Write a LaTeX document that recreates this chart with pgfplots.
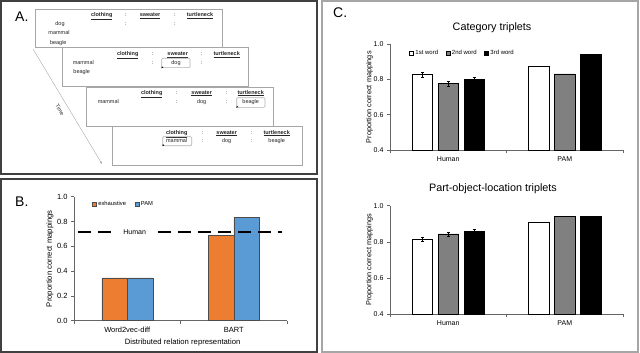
\documentclass[border=0pt]{standalone}
\usepackage{fontspec}
\setmainfont{Liberation Sans}
\usepackage{pgfplots}
\pgfplotsset{compat=1.18}
\usetikzlibrary{arrows.meta}
\definecolor{xlorange}{RGB}{237,125,49}
\definecolor{xlblue}{RGB}{91,155,213}
\definecolor{xlgray}{RGB}{128,128,128}
\newcommand\fs[1]{\fontsize{#1}{#1}\selectfont}
\newcommand\hd[1]{\underline{\textbf{#1}}}

\pgfplotsset{
  excel/.style={
    scale only axis, anchor=south west,
    xmin=0.5, xmax=2.5,
    axis lines*=left,
    axis line style={black!60, line width=0.6pt},
    tick align=outside, major tick length=3pt,
    tick style={black!60, line width=0.6pt},
    xtick={0.5,1.5,2.5}, x tick label as interval,
    yticklabel style={/pgf/number format/.cd, fixed, fixed zerofill, precision=1, assume math mode=true},
    legend cell align=left,
  }
}

\begin{document}
\begin{tikzpicture}
\path[use as bounding box] (0pt,0pt) rectangle (640pt,-353pt);

% panel frames
\draw[black!75, line width=1.2pt] (1pt,-1pt) rectangle (317pt,-174pt);
\draw[black!75, line width=1.2pt] (1pt,-179pt) rectangle (317pt,-352pt);
\draw[gray!70, line width=2pt] (322pt,-1pt) rectangle (638pt,-352pt);

\node[anchor=base west, font=\fs{14}, inner sep=0pt] at (15pt,-22pt) {A.};
\node[anchor=base west, font=\fs{14}, inner sep=0pt] at (15pt,-206pt) {B.};
\node[anchor=base west, font=\fs{14}, inner sep=0pt] at (333pt,-18pt) {C.};

% ---- panel A: mapping sequence
\begin{scope}[x=1pt, y=-1pt, every node/.style={font=\fs{5.5}, text=black!85, inner sep=0pt, text height=4pt, text depth=1pt}]
  \draw[gray!70, line width=0.4pt, -{Latex[length=2.5pt,width=2pt]}] (33,49) -- (102,164);
  \node[rotate=-59] at (59.5,110) {Time};
  \foreach \a/\b/\c/\d in {35/9/222/47, 62/47/248/86, 86/87/273/126, 112/126/302/165}
    \draw[gray!70, line width=0.8pt, fill=white] (\a,\b) rectangle (\c,\d);
  % box 1
  \node at (101.7,15) {\hd{clothing}}; \node at (126,15) {:};
  \node at (150,15) {\hd{sweater}}; \node at (175,15) {:};
  \node at (200,15) {\hd{turtleneck}};
  \node at (60,24) {dog}; \node at (126,24) {:}; \node at (175,24) {:};
  \node at (59,33.3) {mammal}; \node at (58.3,42.7) {beagle};
  % box 2
  \node at (127.7,54) {\hd{clothing}}; \node at (152.7,54) {:};
  \node at (177.7,54) {\hd{sweater}}; \node at (201.7,54) {:};
  \node at (226.7,54) {\hd{turtleneck}};
  \node at (83.3,63.3) {mammal}; \node at (152.7,63.3) {:}; \node at (201.7,63.3) {:};
  \draw[gray!60, rounded corners=1pt, line width=0.6pt] (161.7,58.3) rectangle (190,67.7);
  \node at (176,63.3) {dog};
  \node at (81.7,72.3) {beagle};
  \fill[black] (161.3,68.3) -- ++(0.6,-2) -- ++(1.4,1.2) -- cycle;
  % box 3
  \node at (151.7,92.7) {\hd{clothing}}; \node at (176.7,92.7) {:};
  \node at (201.7,92.7) {\hd{sweater}}; \node at (226.7,92.7) {:};
  \node at (250.7,92.7) {\hd{turtleneck}};
  \node at (108.3,102.3) {mammal}; \node at (176.7,102.3) {:};
  \node at (201.7,102.3) {dog}; \node at (226.7,102.3) {:};
  \draw[gray!60, rounded corners=1pt, line width=0.6pt] (236.7,97.7) rectangle (265,107.3);
  \node at (250.7,102.3) {beagle};
  \fill[black] (236.3,107.8) -- ++(0.6,-2) -- ++(1.4,1.2) -- cycle;
  % box 4
  \node at (176.7,132.7) {\hd{clothing}}; \node at (202.7,132.7) {:};
  \node at (226.7,132.7) {\hd{sweater}}; \node at (251.7,132.7) {:};
  \node at (276.7,132.7) {\hd{turtleneck}};
  \draw[gray!60, rounded corners=1pt, line width=0.6pt] (162.7,136.7) rectangle (191.7,145.7);
  \node at (176.7,141) {mammal}; \node at (202.7,141) {:};
  \node at (226.7,141) {dog}; \node at (251.7,141) {:};
  \node at (276.7,141) {beagle};
  \fill[black] (162.3,146.2) -- ++(0.6,-2) -- ++(1.4,1.2) -- cycle;
\end{scope}

% ---- panel B
\begin{axis}[excel,
  at={(74pt,-320.7pt)}, width=213pt, height=124pt,
  ybar=0pt, bar width=25.5pt,
  legend image code/.code={\draw[#1, line width=0.4pt] (0pt,-2pt) rectangle (4pt,2pt);},
  ymin=0, ymax=1, ytick={0,0.2,0.4,0.6,0.8,1.0},
  xticklabels={Word2vec-diff,BART},
  tick label style={font=\fs{7.5}},
  xlabel={Distributed relation representation},
  ylabel={Proportion correct mappings},
  xlabel style={at={(axis description cs:0.51,-0.172)}, anchor=center, font=\fs{7.7}},
  ylabel style={at={(axis description cs:-0.113,0.5)}, anchor=center, font=\fs{7.7}},
  legend style={at={(0.07,0.94)}, anchor=west, draw=none, fill=none, font=\fs{5.8},
    nodes={inner xsep=0.6pt},
    legend columns=2, /tikz/every odd column/.append style={column sep=1.2pt},
    /tikz/every even column/.append style={column sep=8pt}},
]
\addplot[fill=xlorange, draw=black!70, line width=0.5pt] coordinates {(1,0.345) (2,0.688)};
\addplot[fill=xlblue, draw=black!70, line width=0.5pt] coordinates {(1,0.345) (2,0.833)};
\addplot[sharp plot, black, line width=2pt, dash pattern=on 13pt off 7pt, forget plot]
  coordinates {(0.538,0.718) (2.453,0.718)};
\node[fill=white, inner xsep=9pt, inner ysep=2pt, font=\fs{7}] at (axis cs:1.07,0.718) {Human};
\legend{exhaustive, PAM}
\end{axis}

% ---- panel C, top
\begin{axis}[excel,
  at={(390pt,-150pt)}, width=233pt, height=105.7pt,
  ybar=5.5pt, bar width=20.5pt,
  legend image code/.code={\draw[#1, line width=0.4pt] (0pt,-2pt) rectangle (4pt,2pt);},
  ymin=0.4, ymax=1, ytick={0.4,0.6,0.8,1.0},
  xticklabels={Human,PAM},
  tick label style={font=\fs{7}},
  title={Category triplets},
  title style={at={(axis description cs:0.438,1.097)}, anchor=center, font=\fs{10.8}},
  ylabel={Proportion correct mappings},
  ylabel style={at={(axis description cs:-0.088,0.5)}, anchor=center, font=\fs{7.3}},
  legend style={at={(0.069,0.92)}, anchor=west, draw=none, fill=none, font=\fs{6},
    nodes={inner xsep=0.6pt},
    legend columns=3, /tikz/every odd column/.append style={column sep=1.2pt},
    /tikz/every even column/.append style={column sep=7pt}},
  error bars/y dir=both, error bars/y explicit,
  error bars/error bar style={black, line width=0.4pt},
  error bars/error mark options={rotate=90, mark size=1.5pt, black, line width=0.4pt},
]
\addplot[fill=white, draw=black, line width=0.7pt] coordinates {(1,0.828) +- (0,0.015) (2,0.877) +- (0,0)};
\addplot[fill=xlgray, draw=black, line width=0.7pt] coordinates {(1,0.776) +- (0,0.015) (2,0.832) +- (0,0)};
\addplot[fill=black, draw=black, line width=0.7pt] coordinates {(1,0.800) +- (0,0.015) (2,0.941) +- (0,0)};
\legend{1st word, 2nd word, 3rd word}
\end{axis}

% ---- panel C, bottom
\begin{axis}[excel,
  at={(390pt,-314.3pt)}, width=233pt, height=108.6pt,
  ybar=5.5pt, bar width=20.5pt,
  ymin=0.4, ymax=1, ytick={0.4,0.6,0.8,1.0},
  xticklabels={Human,PAM},
  tick label style={font=\fs{7}},
  title={Part-object-location triplets},
  title style={at={(axis description cs:0.442,1.098)}, anchor=center, font=\fs{10.8}},
  ylabel={Proportion correct mappings},
  ylabel style={at={(axis description cs:-0.088,0.5)}, anchor=center, font=\fs{7.3}},
  error bars/y dir=both, error bars/y explicit,
  error bars/error bar style={black, line width=0.4pt},
  error bars/error mark options={rotate=90, mark size=1.5pt, black, line width=0.4pt},
]
\addplot[fill=white, draw=black, line width=0.7pt] coordinates {(1,0.814) +- (0,0.012) (2,0.908) +- (0,0)};
\addplot[fill=xlgray, draw=black, line width=0.7pt] coordinates {(1,0.844) +- (0,0.012) (2,0.941) +- (0,0)};
\addplot[fill=black, draw=black, line width=0.7pt] coordinates {(1,0.860) +- (0,0.012) (2,0.941) +- (0,0)};
\end{axis}
\end{tikzpicture}
\end{document}
